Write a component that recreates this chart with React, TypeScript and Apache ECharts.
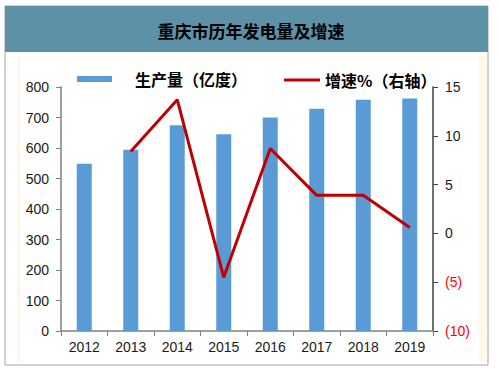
import React, { useEffect, useRef } from "react";
import * as echarts from "echarts";

const years = ["2012", "2013", "2014", "2015", "2016", "2017", "2018", "2019"];
const output = [548, 594, 675, 645, 700, 729, 758, 762];
const growth: (number | null)[] = [null, 8.4, 13.7, -4.5, 8.7, 3.9, 3.9, 0.6];
const titleText = "重庆市历年发电量及增速";
const barName = "生产量（亿度）";
const lineName = "增速%（右轴）";

const CJK = '"Noto Sans CJK SC", "Noto Sans", sans-serif';
const NUM = '"Liberation Sans", Arial, sans-serif';

export default function App() {
  const ref = useRef<HTMLDivElement>(null);
  useEffect(() => {
    document.body.style.margin = "0";
    const chart = echarts.init(ref.current!, null, { renderer: "svg" });
    chart.setOption({
      animation: false,
      backgroundColor: "#ffffff",
      graphic: [
        { type: "rect", shape: { x: 5, y: 6, width: 483, height: 359 }, style: { fill: "#ffffff", stroke: "#a6a6a6", lineWidth: 1 }, z: -10 },
        { type: "rect", shape: { x: 17, y: 56, width: 3, height: 306 }, style: { fill: "#fff8e8" }, z: -9 },
        { type: "rect", shape: { x: 479, y: 56, width: 8, height: 306 }, style: { fill: "#fff8e8" }, z: -9 },
        { type: "rect", shape: { x: 5, y: 6, width: 483, height: 46 }, style: { fill: "#5d91a7" }, z: -8 },
      ],
      title: {
        text: titleText,
        left: 246,
        textAlign: "center",
        top: 17,
        textStyle: { fontFamily: CJK, fontSize: 17, fontWeight: "bold", color: "#000" },
      },
      legend: [
        {
          data: [{ name: barName, icon: "rect" }],
          left: 72,
          top: 66,
          itemWidth: 35,
          itemHeight: 6,
          textStyle: { fontFamily: CJK, fontSize: 16, fontWeight: "bold", color: "#000", padding: [0, 0, 0, 18] },
        },
        {
          data: [{ name: lineName, icon: "rect" }],
          left: 279,
          top: 67,
          itemWidth: 36,
          itemHeight: 3,
          textStyle: { fontFamily: CJK, fontSize: 16, fontWeight: "bold", color: "#000", padding: [0, 0, 0, 0] },
        },
      ],
      grid: { left: 61, right: 67, top: 87, bottom: 41, containLabel: false },
      xAxis: {
        type: "category",
        data: years,
        axisLine: { lineStyle: { color: "#808080", width: 1.5 } },
        axisTick: { show: true, length: 5, lineStyle: { color: "#808080" } },
        axisLabel: { fontFamily: NUM, fontSize: 14, color: "#1a1a1a", margin: 9 },
      },
      yAxis: [
        {
          type: "value",
          min: 0,
          max: 800,
          interval: 100,
          axisLine: { show: true, lineStyle: { color: "#808080", width: 1.5 } },
          axisTick: { show: true, length: 5, lineStyle: { color: "#808080" } },
          splitLine: { show: false },
          axisLabel: { fontFamily: NUM, fontSize: 14, color: "#1a1a1a", margin: 12 },
        },
        {
          type: "value",
          min: -10,
          max: 15,
          interval: 5,
          position: "right",
          axisLine: { show: true, lineStyle: { color: "#404040", width: 1.5 } },
          axisTick: { show: true, length: 5, lineStyle: { color: "#404040" } },
          splitLine: { show: false },
          axisLabel: {
            fontFamily: NUM,
            fontSize: 14,
            margin: 12,
            formatter: (v: number) => (v < 0 ? "(" + Math.abs(v) + ")" : String(v)),
            color: (v: any) => (Number(v) < 0 ? "#ff0000" : "#1a1a1a"),
          },
        },
      ],
      series: [
        {
          name: barName,
          type: "bar",
          data: output,
          barWidth: 15,
          itemStyle: { color: "#5b9bd5" },
        },
        {
          name: lineName,
          type: "line",
          yAxisIndex: 1,
          data: growth,
          symbol: "none",
          lineStyle: { color: "#c00000", width: 3 },
          itemStyle: { color: "#c00000" },
        },
      ],
    });
    return () => chart.dispose();
  }, []);
  return <div ref={ref} style={{ width: 500, height: 372 }} />;
}
